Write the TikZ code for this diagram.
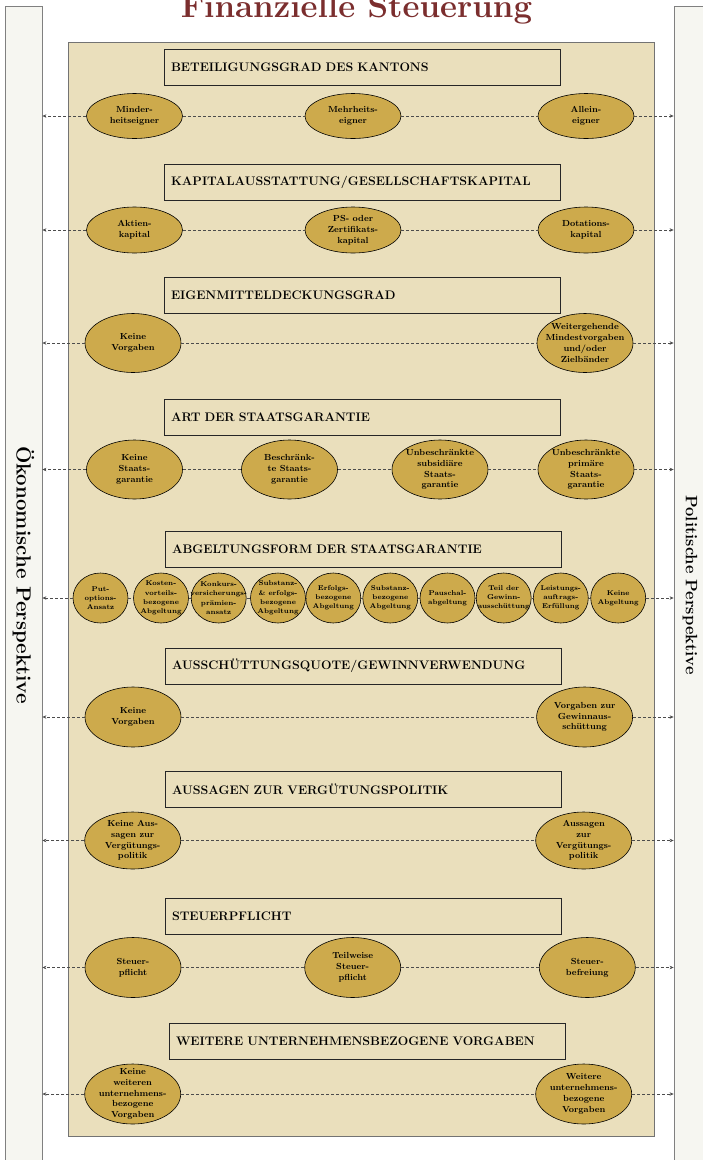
\documentclass[tikz,border=0pt]{standalone}
\usepackage{tikz}
\usetikzlibrary{shapes.geometric,arrows.meta,positioning}
\definecolor{beige}{HTML}{EADFBC}
\definecolor{gold}{HTML}{CDAA4C}
\definecolor{sidegray}{HTML}{F6F6F1}
\definecolor{titlered}{HTML}{7B2E2E}
\tikzset{
  sidebar/.style={draw=black!50, fill=sidegray, line width=0.8pt, minimum width=37pt, minimum height=1170pt, inner sep=0pt},
  hdbox/.style={draw=black!85, fill=beige, line width=0.8pt, minimum height=36pt, text width=382pt, inner xsep=7pt, align=left, font=\bfseries\fontsize{12.4}{14}\selectfont},
  opt/.style={ellipse, draw=black, fill=gold, line width=0.6pt, minimum width=96pt, minimum height=59pt, inner sep=0pt},
  optsm/.style={opt, minimum width=55pt, minimum height=50pt},
  optlbl/.style={inner sep=0pt, align=center, font=\bfseries\fontsize{8.8}{10.8}\selectfont},
  smlbl/.style={optlbl, font=\bfseries\fontsize{7}{9.2}\selectfont},
  link/.style={densely dashed, draw=black!70, line width=0.5pt},
  outlink/.style={link, -{Stealth[length=4pt,width=3.5pt]}}
}
\begin{document}
\begin{tikzpicture}[x=1pt,y=-1pt]
  \useasboundingbox (0,0) rectangle (702,1160);

  % perspectives
  \node[sidebar] (oek) at (23.5,591) {};
  \node[sidebar] (pol) at (692.5,591) {};
  \node[rotate=-90, font=\bfseries\fontsize{20.5}{24}\selectfont] (oektxt) at (23.5,575) {Ökonomische Perspektive};
  \node[rotate=-90, font=\bfseries\fontsize{16.5}{19}\selectfont] (poltxt) at (690,585) {Politische Perspektive};

  \node[font=\bfseries\fontsize{33}{35}\selectfont, text=titlered, anchor=base] (title) at (356.5,17.5) {Finanzielle Steuerung};
  \node[draw=black!55, fill=beige, line width=1pt, minimum width=586pt, minimum height=1094pt, inner sep=0pt] (frame) at (361,589) {};

  % Beteiligungsgrad
  \node[hdbox] (hd1) at (362,67) {BETEILIGUNGSGRAD DES KANTONS};
  \node[opt, minimum height=45pt, label={[optlbl]center:{Minder-\\heitseigner}}] (o1-1) at (134.5,116) {};
  \node[opt, minimum height=45pt, label={[optlbl]center:{Mehrheits-\\eigner}}] (o1-2) at (353,116) {};
  \node[opt, minimum height=45pt, label={[optlbl]center:{Allein-\\eigner}}] (o1-3) at (586,116) {};
  \draw[outlink] (o1-1) -- (oek.east |- o1-1);
  \draw[link] (o1-1) -- (o1-2);
  \draw[link] (o1-2) -- (o1-3);
  \draw[outlink] (o1-3) -- (pol.west |- o1-3);

  % Kapitalausstattung
  \node[hdbox] (hd2) at (362,182) {KAPITALAUSSTATTUNG/GESELLSCHAFTSKAPITAL};
  \node[opt, minimum height=46pt, label={[optlbl]center:{Aktien-\\kapital}}] (o2-1) at (134.5,230) {};
  \node[opt, minimum height=46pt, label={[optlbl]center:{PS- oder\\Zertifikats-\\kapital}}] (o2-2) at (353,230) {};
  \node[opt, minimum height=46pt, label={[optlbl]center:{Dotations-\\kapital}}] (o2-3) at (586,230) {};
  \draw[outlink] (o2-1) -- (oek.east |- o2-1);
  \draw[link] (o2-1) -- (o2-2);
  \draw[link] (o2-2) -- (o2-3);
  \draw[outlink] (o2-3) -- (pol.west |- o2-3);

  % Eigenmitteldeckungsgrad
  \node[hdbox] (hd3) at (362,295) {EIGENMITTELDECKUNGSGRAD};
  \node[opt, label={[optlbl]center:{Keine\\Vorgaben}}] (o3-1) at (133,343) {};
  \node[opt, label={[optlbl]center:{Weitergehende\\Mindestvorgaben\\und/oder\\Zielbänder}}] (o3-2) at (585,343) {};
  \draw[outlink] (o3-1) -- (oek.east |- o3-1);
  \draw[link] (o3-1) -- (o3-2);
  \draw[outlink] (o3-2) -- (pol.west |- o3-2);

  % Staatsgarantie
  \node[hdbox] (hd4) at (362,417) {ART DER STAATSGARANTIE};
  \node[opt, label={[optlbl]center:{Keine\\Staats-\\garantie}}] (o4-1) at (134.5,469.5) {};
  \node[opt, label={[optlbl]center:{Beschränk-\\te Staats-\\garantie}}] (o4-2) at (289.5,469.5) {};
  \node[opt, label={[optlbl]center:{Unbeschränkte\\subsidiäre\\Staats-\\garantie}}] (o4-3) at (440,469.5) {};
  \node[opt, label={[optlbl]center:{Unbeschränkte\\primäre\\Staats-\\garantie}}] (o4-4) at (586,469.5) {};
  \draw[outlink] (o4-1) -- (oek.east |- o4-1);
  \draw[link] (o4-1) -- (o4-2);
  \draw[link] (o4-2) -- (o4-3);
  \draw[link] (o4-3) -- (o4-4);
  \draw[outlink] (o4-4) -- (pol.west |- o4-4);

  % Abgeltungsform
  \node[hdbox] (hd5) at (363,549) {ABGELTUNGSFORM DER STAATSGARANTIE};
  \node[optsm, label={[smlbl]center:{Put-\\options-\\Ansatz}}] (o5-1) at (100.5,598) {};
  \node[optsm, label={[smlbl]center:{Kosten-\\vorteils-\\bezogene\\Abgeltung}}] (o5-2) at (161,598) {};
  \node[optsm, label={[smlbl]center:{Konkurs-\\versicherungs-\\prämien-\\ansatz}}] (o5-3) at (218.7,598) {};
  \node[optsm, label={[smlbl]center:{Substanz-\\\& erfolgs-\\bezogene\\Abgeltung}}] (o5-4) at (278,598) {};
  \node[optsm, label={[smlbl]center:{Erfolgs-\\bezogene\\Abgeltung}}] (o5-5) at (333.3,598) {};
  \node[optsm, label={[smlbl]center:{Substanz-\\bezogene\\Abgeltung}}] (o5-6) at (390.3,598) {};
  \node[optsm, label={[smlbl]center:{Pauschal-\\abgeltung}}] (o5-7) at (447.5,598) {};
  \node[optsm, label={[smlbl]center:{Teil der\\Gewinn-\\ausschüttung}}] (o5-8) at (503.7,598) {};
  \node[optsm, label={[smlbl]center:{Leistungs-\\auftrags-\\Erfüllung}}] (o5-9) at (560.8,598) {};
  \node[optsm, label={[smlbl]center:{Keine\\Abgeltung}}] (o5-10) at (618.2,598) {};
  \draw[outlink] (o5-1) -- (oek.east |- o5-1);
  \draw[link] (o5-1) -- (o5-2);
  \draw[link] (o5-2) -- (o5-3);
  \draw[link] (o5-3) -- (o5-4);
  \draw[link] (o5-4) -- (o5-5);
  \draw[link] (o5-5) -- (o5-6);
  \draw[link] (o5-6) -- (o5-7);
  \draw[link] (o5-7) -- (o5-8);
  \draw[link] (o5-8) -- (o5-9);
  \draw[link] (o5-9) -- (o5-10);
  \draw[outlink] (o5-10) -- (pol.west |- o5-10);

  % Ausschuettungsquote
  \node[hdbox] (hd6) at (363,666) {AUSSCHÜTTUNGSQUOTE/GEWINNVERWENDUNG};
  \node[opt, minimum height=60pt, label={[optlbl]center:{Keine\\Vorgaben}}] (o6-1) at (133,717) {};
  \node[opt, minimum height=60pt, label={[optlbl]center:{Vorgaben zur\\Gewinnaus-\\schüttung}}] (o6-2) at (584.6,717) {};
  \draw[outlink] (o6-1) -- (oek.east |- o6-1);
  \draw[link] (o6-1) -- (o6-2);
  \draw[outlink] (o6-2) -- (pol.west |- o6-2);

  % Verguetungspolitik
  \node[hdbox] (hd7) at (363,789.5) {AUSSAGEN ZUR VERGÜTUNGSPOLITIK};
  \node[opt, minimum height=57pt, label={[optlbl]center:{Keine Aus-\\sagen zur\\Vergütungs-\\politik}}] (o7-1) at (132.7,840.5) {};
  \node[opt, minimum height=57pt, label={[optlbl]center:{Aussagen\\zur\\Vergütungs-\\politik}}] (o7-2) at (583.7,840.5) {};
  \draw[outlink] (o7-1) -- (oek.east |- o7-1);
  \draw[link] (o7-1) -- (o7-2);
  \draw[outlink] (o7-2) -- (pol.west |- o7-2);

  % Steuerpflicht
  \node[hdbox] (hd8) at (363,916) {STEUERPFLICHT};
  \node[opt, minimum height=60pt, label={[optlbl]center:{Steuer-\\pflicht}}] (o8-1) at (133,967.5) {};
  \node[opt, minimum height=60pt, label={[optlbl]center:{Teilweise\\Steuer-\\pflicht}}] (o8-2) at (352.7,967.5) {};
  \node[opt, minimum height=60pt, label={[optlbl]center:{Steuer-\\befreiung}}] (o8-3) at (587.3,967.5) {};
  \draw[outlink] (o8-1) -- (oek.east |- o8-1);
  \draw[link] (o8-1) -- (o8-2);
  \draw[link] (o8-2) -- (o8-3);
  \draw[outlink] (o8-3) -- (pol.west |- o8-3);

  % weitere Vorgaben
  \node[hdbox] (hd9) at (367,1041) {WEITERE UNTERNEHMENSBEZOGENE VORGABEN};
  \node[opt, minimum height=60pt, label={[optlbl]center:{Keine\\weiteren\\unternehmens-\\bezogene\\Vorgaben}}] (o9-1) at (132.7,1094) {};
  \node[opt, minimum height=60pt, label={[optlbl]center:{Weitere\\unternehmens-\\bezogene\\Vorgaben}}] (o9-2) at (583.7,1094) {};
  \draw[outlink] (o9-1) -- (oek.east |- o9-1);
  \draw[link] (o9-1) -- (o9-2);
  \draw[outlink] (o9-2) -- (pol.west |- o9-2);
\end{tikzpicture}
\end{document}
